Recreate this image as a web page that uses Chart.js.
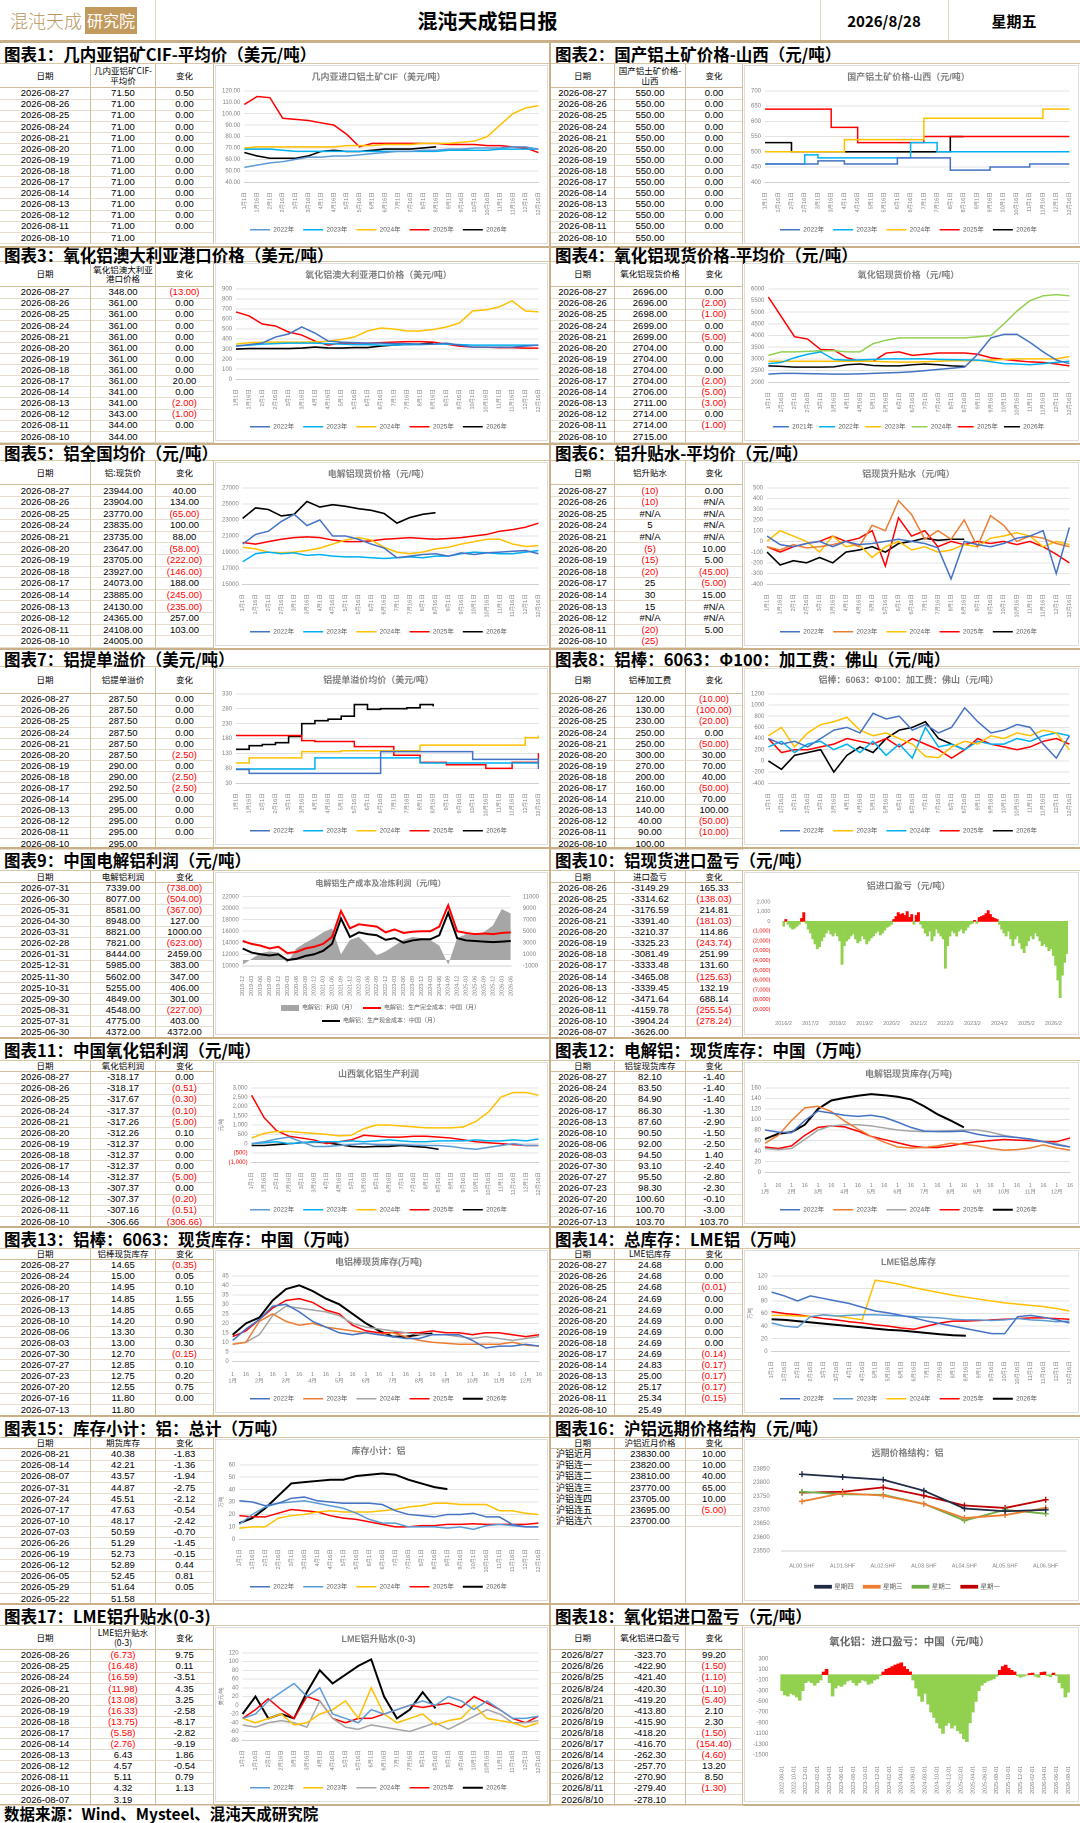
<!DOCTYPE html>
<html><head><meta charset="utf-8">
<script src="https://cdn.jsdelivr.net/npm/chart.js@4.4.1/dist/chart.umd.min.js"></script>
<style>
html,body{margin:0;padding:0;background:#fff}
body{width:1080px;height:1823px;position:relative;overflow:hidden;font-family:"Liberation Sans","Noto Sans CJK SC",sans-serif;color:#000}
.a{position:absolute;box-sizing:border-box}
.cell{position:absolute;box-sizing:border-box;display:flex;align-items:center;justify-content:center;text-align:center;font-size:9.5px;line-height:10px;white-space:nowrap;border-bottom:1px solid #e6dccb;border-right:1px solid #cfbd9b;overflow:hidden}
.hd{font-family:"Noto Sans CJK SC";font-size:8.5px;line-height:9.5px;white-space:normal;border-bottom:1px solid #cfbd9b;padding:0 2px}
.neg{color:#ff0000}
.nob{border-bottom:none}
.lft{justify-content:flex-start;padding-left:5px;font-family:"Noto Sans CJK SC";font-size:9px}
.ptitle{position:absolute;font-family:"Noto Sans CJK SC";font-weight:700;font-size:16.5px;line-height:20px;white-space:nowrap}
.cbox{position:absolute;box-sizing:border-box;border:1px solid #dedede;background:#fff}
.hl{position:absolute;background:#c9b088}
</style></head><body>
<!-- header -->
<div class="a" style="left:10px;top:7px;height:27px;font-family:'Noto Sans CJK SC';font-weight:300;font-size:18px;line-height:27px;color:#b9955e;letter-spacing:0px">混沌天成</div>
<div class="a" style="left:85px;top:7px;width:52px;height:27px;background:#c29a5d;color:#fff;font-family:'Noto Sans CJK SC';font-size:16px;line-height:27px;text-align:center">研究院</div>
<div class="hl" style="left:155px;top:0;width:1px;height:40px;background:#e2d6bf"></div>
<div class="hl" style="left:820px;top:0;width:1px;height:40px;background:#e2d6bf"></div>
<div class="hl" style="left:948px;top:0;width:1px;height:40px;background:#e2d6bf"></div>
<div class="a" style="left:155px;width:665px;top:8px;text-align:center;font-family:'Noto Sans CJK SC';font-weight:700;font-size:20px;line-height:26px">混沌天成铝日报</div>
<div class="a" style="left:820px;width:128px;top:10px;text-align:center;font-family:'Noto Sans CJK SC';font-weight:700;font-size:15px;line-height:22px">2026/8/28</div>
<div class="a" style="left:948px;width:132px;top:10px;text-align:center;font-family:'Noto Sans CJK SC';font-weight:700;font-size:15px;line-height:22px">星期五</div>
<div class="hl" style="left:0;top:40px;width:1080px;height:2px"></div>
<div class="hl" style="left:549px;top:41px;width:2px;height:1763px"></div>
<div class="hl" style="left:0;top:1804px;width:1080px;height:2px"></div>
<div class="ptitle" style="left:4px;top:1804px;line-height:19px;font-size:15.5px">数据来源：Wind、Mysteel、混沌天成研究院</div>
<script>
// ---------------- categories / tick labels ----------------
const M24=["1月1日","1月16日","2月1日","2月16日","3月1日","3月16日","4月1日","4月16日","5月1日","5月16日","6月1日","6月16日","7月1日","7月16日","8月1日","8月16日","9月1日","9月16日","10月1日","10月16日","11月1日","11月16日","12月1日","12月16日"];
const DM24=[["1","1月"],["16",""],["1","2月"],["16",""],["1","3月"],["16",""],["1","4月"],["16",""],["1","5月"],["16",""],["1","6月"],["16",""],["1","7月"],["16",""],["1","8月"],["16",""],["1","9月"],["16",""],["1","10月"],["16",""],["1","11月"],["16",""],["1","12月"],["16",""]];
const Q9=["2018-12","2019-03","2019-06","2019-09","2019-12","2020-03","2020-06","2020-09","2020-12","2021-03","2021-06","2021-09","2021-12","2022-03","2022-06","2022-09","2022-12","2023-03","2023-06","2023-09","2023-12","2024-03","2024-06","2024-09","2024-12","2025-03","2025-06","2025-09","2025-12","2026-03","2026-06"];
const AL16=["AL00.SHF","AL01.SHF","AL02.SHF","AL03.SHF","AL04.SHF","AL05.SHF","AL06.SHF"];
const M10=[]; for(let y=2016;y<=2026;y++){for(let m=1;m<=12;m++){if((y===2016&&m<2)||(y===2026&&m>8))continue;M10.push(y+'/'+m);}}
const D18=[]; for(let y=2022;y<=2026;y++){for(let m=1;m<=12;m++){if((y===2022&&m<8)||(y===2026&&m>8))continue;const mm=(m<10?'0':'')+m;D18.push(y+'-'+mm+'-01');if(!(y===2026&&m===8))D18.push(y+'-'+mm+'-16');}}
const YRS5=["2022年","2023年","2024年","2025年","2026年"];

// ---------------- series values ----------------
const c1_22=[53,55,57,58,60,62,62,63,63,64,65,66,67,67,68,68,69,69,70,70,70,71,71,69];
const c1_23=[69,69,69,68,67,67,67,67,67,67,67,67,67,67,67,67,68,68,68,68,69,69,69,69];
const c1_24=[70,71,71,71,71,71,71,71,72,72,72,73,73,73,74,74,74,75,76,80,90,100,105,107];
const c1_25=[108,115,114,96,95,94,92,90,82,71,74,74,74,74,74,74,73,73,73,72,72,71,70,66];
const c1_26=[66,63,61,61,61,63,67,68,67,67,68,69,69,69,70,71];

const c2_22=[460,460,460,460,470,470,460,460,460,460,480,480,480,480,440,440,440,450,450,450,460,460,460,460];
const c2_23=[460,460,460,490,480,480,480,480,480,480,480,530,530,500,500,500,500,500,500,500,500,500,500,500];
const c2_24=[500,500,500,500,500,500,540,540,540,540,540,540,610,610,610,610,610,610,610,610,610,640,640,640];
const c2_25=[640,640,640,640,640,580,580,530,530,530,530,530,550,550,550,550,550,550,550,550,550,550,550,550];
const c2_26=[530,530,500,500,500,500,500,500,500,500,500,500,500,500,550,550];

const c3_22=[330,345,360,420,450,520,460,380,370,365,360,360,355,355,350,350,360,340,320,320,320,320,330,340];
const c3_23=[330,340,350,355,360,360,360,355,350,345,345,340,340,345,345,350,350,345,340,340,340,340,340,340];
const c3_24=[350,365,368,370,370,370,372,380,395,420,480,510,500,480,480,495,520,560,680,690,720,780,680,670];
const c3_25=[670,630,550,530,470,440,380,340,360,360,360,365,370,375,375,370,350,330,320,320,315,315,310,310];
const c3_26=[300,305,305,305,305,310,320,312,310,315,315,330,340,345,350,360];

const c4_21=[2350,2380,2380,2370,2360,2350,2350,2360,2380,2400,2420,2450,2500,2550,2600,2650,3200,3900,4050,4050,3700,3300,2950,2800];
const c4_22=[2800,2850,3050,3200,3300,2980,2950,2960,2980,3000,3000,3000,3000,2980,2970,2960,2950,2880,2800,2780,2750,2800,2850,2900];
const c4_23=[2900,2900,2900,2900,2900,2900,2900,2900,2900,2880,2860,2860,2880,2900,2920,2920,2930,2950,2980,3000,3000,3000,3000,3100];
const c4_24=[3150,3300,3300,3320,3350,3350,3300,3300,3650,3800,3900,3900,3900,3900,3900,3900,3950,4000,4500,5050,5500,5700,5750,5700];
const c4_25=[5650,4800,3950,3850,3400,3380,3050,2900,2900,3250,3300,3150,3200,3250,3250,3250,3200,3050,2980,2920,2870,2850,2780,2700];
const c4_26=[2700,2680,2650,2650,2650,2660,2750,2780,2720,2700,2700,2750,2780,2750,2700,2680];

const c5_22=[20000,21200,21600,22800,23700,22300,23000,21000,21000,20600,20000,19500,18300,18500,18700,18800,18500,18900,18700,18900,19000,19100,19200,18800];
const c5_23=[17800,18800,19000,18800,18900,18600,18700,18500,18400,18400,18300,18200,18300,18400,18300,18500,18500,18800,19000,18900,18800,18800,19000,19200];
const c5_24=[19600,19400,19000,18900,19000,19200,19500,20000,20500,20800,20500,19600,19000,18800,19000,19400,19600,20000,20300,20600,20600,20000,19700,19800];
const c5_25=[20200,20000,20300,20600,20800,20900,20800,20500,20300,20300,20400,20600,20700,20800,20700,20600,20700,20800,21000,21200,21600,21800,22100,22600];
const c5_26=[23200,24500,24300,23500,23700,25300,24600,24900,24700,24400,24200,23800,22600,23300,23700,23900];

const c6_22=[50,-30,-50,-20,0,-50,0,-30,-20,0,20,0,-20,-60,-350,0,-30,-50,-20,30,50,100,-300,130];
const c6_23=[-50,-80,-30,-60,-50,-30,0,-50,150,100,380,250,20,100,20,200,-50,240,150,0,50,30,-20,-50];
const c6_24=[0,100,50,0,-100,50,-50,-30,-150,-50,0,-80,-50,-100,-80,-30,-50,30,50,80,50,-50,0,-30];
const c6_25=[-50,-100,-50,-20,0,50,0,30,100,-230,220,50,100,-50,0,-30,0,-20,0,-30,0,-50,-120,-200];
const c6_26=[-100,-220,-180,-200,-150,-200,-100,-80,-50,-100,-20,0,30,10,20,20];

const c7_22=[76,63,63,63,63,63,63,63,63,63,63,136,136,136,136,136,136,136,110,110,110,110,110,78];
const c7_23=[78,78,78,78,78,78,115,115,115,115,115,115,115,115,98,98,98,98,98,98,98,98,98,98];
const c7_24=[98,115,115,115,115,136,136,136,139,139,139,139,139,139,158,158,158,158,158,158,158,158,183,190];
const c7_25=[190,190,190,190,190,173,170,170,170,153,153,153,124,124,100,100,92,92,92,80,80,100,100,131];
const c7_26=[144,156,160,166,187,230,240,245,255,294,278,280,280,283,294,288];

const c8_22=[400,300,350,250,400,550,600,500,850,750,800,550,650,500,600,950,700,500,550,650,600,300,50,450];
const c8_23=[450,600,250,500,650,700,780,550,450,500,400,300,80,60,250,350,300,450,400,500,450,550,500,200];
const c8_24=[250,350,150,300,350,200,300,150,350,100,300,50,600,250,300,200,350,300,300,400,350,450,500,450];
const c8_25=[400,150,200,200,250,300,400,350,300,400,250,400,300,200,50,200,400,300,250,200,250,350,400,300];
const c8_26=[0,-150,100,150,200,-200,100,250,150,400,550,600,700,400,300,200];

const c9_full=[14300,13800,13500,13000,13300,12200,12400,13000,13300,13800,15000,19500,16500,17200,17000,16800,15800,16300,15700,15900,16000,16000,16800,20500,16000,15700,15500,15600,15500,15700,15800];
const c9_cash=[13000,12300,12000,11800,12000,11000,11200,11700,12000,12600,13800,18200,15000,15800,15500,15300,14500,14800,14000,14400,14600,14600,15300,19200,14800,14400,14300,14200,14100,14200,14300];
const c9_profit=[-800,200,1200,1500,1300,-500,2000,3000,3800,4800,5500,1000,3500,4000,2500,800,1500,2500,3500,4000,3800,3500,2500,-800,3800,4500,4372,4849,5985,8821,8077];

const c10=[-500,200,-300,-600,-800,-700,-500,-300,300,900,-200,
-800,-1200,-1800,-2300,-2800,-2600,-2000,-1600,-1200,-900,-1300,-1500,
-1200,-1500,-2000,-4400,-2500,-2000,-1800,-1500,-1300,-1800,-2200,-2000,
-1500,-1800,-2300,-2000,-1700,-1500,-1200,-1000,-1400,-1200,-900,-600,
-500,-300,200,500,900,700,800,600,1000,400,700,-300,
600,900,-300,-700,-1200,-1500,-1000,-2000,-1500,-800,-1200,-1500,
-1800,-4800,-2500,-1500,-1000,-1200,-1500,-1000,-800,-1200,-900,-600,
-300,-200,100,-200,400,500,600,800,1100,700,400,300,
200,-300,-800,-1200,-1500,-1000,-1800,-2500,-1800,-1500,-2200,-2800,
-3200,-2500,-2000,-1500,-1800,-1200,-1500,-2000,-2500,-2300,-2600,-3000,
-2800,-3500,-4500,-6000,-7800,-5500,-4200,-3300];

const c11_22=[0,100,250,350,100,-150,-150,-100,-50,0,-50,-50,-50,-80,-100,-100,-150,-250,-300,-200,-100,0,-100,-100];
const c11_23=[0,50,100,0,50,100,100,100,150,100,150,200,150,100,100,150,150,150,200,150,150,200,150,250];
const c11_24=[300,550,650,650,600,550,500,420,450,800,1000,1000,950,900,850,850,850,900,1200,1700,2500,2750,2750,2600];
const c11_25=[2600,1400,700,400,300,200,0,100,200,450,400,350,350,400,400,350,300,200,100,50,0,-50,-100,-100];
const c11_26=[-100,-100,-50,0,50,100,50,-50,-150,-180,-150,-150,-100,-150,-200,-300];

const c12_22=[80,76,75,98,116,112,108,106,108,104,95,85,78,77,77,78,72,68,68,66,63,58,52,48];
const c12_23=[55,70,98,122,125,115,97,82,68,57,48,46,47,50,55,53,50,45,42,43,46,52,46,42];
const c12_24=[45,43,45,62,80,88,90,90,88,84,80,78,77,78,79,80,80,76,70,66,62,58,54,48];
const c12_25=[48,45,50,70,85,88,86,78,68,62,56,50,47,47,50,55,58,60,62,61,60,58,58,65];
const c12_26=[63,73,76,90,120,136,141,145,148,146,143,138,125,110,98,85];

const c13_22=[11,17,22,29,30,26,21,18,15,14,15,14,13,12,12,14,14,14,11,7,8,8,9,8];
const c13_23=[9,10,21,25,21,19,20,18,17,16,15,14,15,13,11,10,9.5,9,9,9,9,10,8.5,8];
const c13_24=[9,10,14,24,29,28,27,26,24,20,18,17,16,15,14,14,14,13,12,13,12,11,12,13];
const c13_25=[13,16,22,28,32,33,31,27,25,19,16,15,15,15,15,16,15,15,14,15,15,14,13,14];
const c13_26=[14,20,23,32,38,40,37,33,30,25,20,16,13,13,14,14.65];

const c14_22=[94,88,80,88,84,80,76,70,64,61,57,53,48,44,40,36,32,28,28,55,57,54,50,45];
const c14_23=[45,40,38,55,58,56,57,58,58,57,56,55,54,53,51,50,50,49,50,52,50,49,47,48];
const c14_24=[57,57,56,55,58,56,53,50,113,110,106,101,97,93,89,86,83,80,77,75,73,71,68,64];
const c14_25=[63,60,58,55,52,50,47,45,42,40,37,35,40,45,48,48,49,50,51,52,53,53,52,51];
const c14_26=[51,50,48,46,44,42,40,38,36,34,33,31,29,27,25.5,24.7];

const c15_22=[31,30,27,29,33,34,31,30,29,29,29,28,23,20,19,18,20,20,21,18,18,12,10,10];
const c15_23=[12,20,26,29,30,31,29,27,25,21,16,13,13,10,10,10,9,10,8,11,12,11,10,10];
const c15_24=[9,10,10,17,19,20,22,23,22,22,22,23,24,26,27,29,29,28,28,28,23,23,21,20];
const c15_25=[19,18,18,21,24,23,22,19,17,16,14,12,10,10,11,11,12,12,12.5,12,12,12,12,13];
const c15_26=[13,17,25,35,45,46,47,48,48,51,52,53,52,48,45,42,40.4];

const c16_thu=[23830,23820,23810,23770,23705,23695,23700];
const c16_wed=[23731,23761,23752,23722,23670,23681,23707];
const c16_tue=[23766,23757,23755,23722,23661,23700,23686];
const c16_mon=[23763,23766,23782,23752,23716,23707,23737];

const c17_22=[-30,-20,10,30,50,20,40,-20,-30,-40,-10,-20,-10,0,10,0,20,10,-10,10,-10,-30,-30,-25];
const c17_23=[-30,-40,-30,-20,-45,-40,-20,-10,10,-30,40,-20,-40,-30,-20,-45,-35,-30,0,-30,-35,-40,-50,-40];
const c17_24=[-45,-50,-40,-35,-40,-50,10,-30,-50,-55,-45,-50,-55,-60,-50,-40,-55,-40,-25,-10,-20,-40,-40,-35];
const c17_25=[-30,-10,15,-10,-30,20,10,-30,-40,-30,-30,-20,-10,0,-5,0,5,-5,20,5,-10,-30,-40,-25];
const c17_26=[-20,20,-30,-20,-30,30,80,50,70,90,105,20,-30,-10,30,-7];

const c18=[-300,-380,-400,-350,-380,-420,-480,-300,-150,-120,
-150,-200,-150,-100,50,100,-150,-400,-250,-200,-220,-180,-120,-100,-150,-200,-150,-100,-120,-180,-160,-100,-80,-20,
50,100,120,150,180,200,220,150,100,50,-100,-250,-400,-500,-350,-550,-700,-800,-900,-1000,-1100,-950,-900,-1000,
-950,-1050,-1100,-1200,-1250,-900,-700,-500,-300,-200,-150,-120,-100,-80,-30,80,150,180,120,80,50,-20,-50,-30,
-10,20,30,-30,-50,40,50,-20,-40,30,-20,-150,-250,-420,-330];

// ---------------- table texts ----------------
const DD=["2026-08-27","2026-08-26","2026-08-25","2026-08-24","2026-08-21","2026-08-20","2026-08-19","2026-08-18","2026-08-17","2026-08-14","2026-08-13","2026-08-12","2026-08-11","2026-08-10"];
const t1v=["71.50","71.00","71.00","71.00","71.00","71.00","71.00","71.00","71.00","71.00","71.00","71.00","71.00","71.00"];
const t1c=["0.50","0.00","0.00","0.00","0.00","0.00","0.00","0.00","0.00","0.00","0.00","0.00","0.00",""];
const t2v=["550.00","550.00","550.00","550.00","550.00","550.00","550.00","550.00","550.00","550.00","550.00","550.00","550.00","550.00"];
const t2c=["0.00","0.00","0.00","0.00","0.00","0.00","0.00","0.00","0.00","0.00","0.00","0.00","0.00",""];
const t3v=["348.00","361.00","361.00","361.00","361.00","361.00","361.00","361.00","361.00","341.00","341.00","343.00","344.00","344.00"];
const t3c=["(13.00)","0.00","0.00","0.00","0.00","0.00","0.00","0.00","20.00","0.00","(2.00)","(1.00)","0.00",""];
const t4v=["2696.00","2696.00","2698.00","2699.00","2699.00","2704.00","2704.00","2704.00","2704.00","2706.00","2711.00","2714.00","2714.00","2715.00"];
const t4c=["0.00","(2.00)","(1.00)","0.00","(5.00)","0.00","0.00","0.00","(2.00)","(5.00)","(3.00)","0.00","(1.00)",""];
const t5v=["23944.00","23904.00","23770.00","23835.00","23735.00","23647.00","23705.00","23927.00","24073.00","23885.00","24130.00","24365.00","24108.00","24005.00"];
const t5c=["40.00","134.00","(65.00)","100.00","88.00","(58.00)","(222.00)","(146.00)","188.00","(245.00)","(235.00)","257.00","103.00",""];
const t6v=["(10)","(10)","#N/A","5","#N/A","(5)","(15)","(20)","25","30","15","#N/A","(20)","(25)"];
const t6c=["0.00","#N/A","#N/A","#N/A","#N/A","10.00","5.00","(45.00)","(5.00)","15.00","#N/A","#N/A","5.00",""];
const t7v=["287.50","287.50","287.50","287.50","287.50","287.50","290.00","290.00","292.50","295.00","295.00","295.00","295.00","295.00"];
const t7c=["0.00","0.00","0.00","0.00","0.00","(2.50)","0.00","(2.50)","(2.50)","0.00","0.00","0.00","0.00",""];
const t8v=["120.00","130.00","230.00","250.00","250.00","300.00","270.00","200.00","160.00","210.00","140.00","40.00","90.00","100.00"];
const t8c=["(10.00)","(100.00)","(20.00)","0.00","(50.00)","30.00","70.00","40.00","(50.00)","70.00","100.00","(50.00)","(10.00)",""];
const t9d=["2026-07-31","2026-06-30","2026-05-31","2026-04-30","2026-03-31","2026-02-28","2026-01-31","2025-12-31","2025-11-30","2025-10-31","2025-09-30","2025-08-31","2025-07-31","2025-06-30"];
const t9v=["7339.00","8077.00","8581.00","8948.00","8821.00","7821.00","8444.00","5985.00","5602.00","5255.00","4849.00","4548.00","4775.00","4372.00"];
const t9c=["(738.00)","(504.00)","(367.00)","127.00","1000.00","(623.00)","2459.00","383.00","347.00","406.00","301.00","(227.00)","403.00","4372.00"];
const t10d=["2026-08-26","2026-08-25","2026-08-24","2026-08-21","2026-08-20","2026-08-19","2026-08-18","2026-08-17","2026-08-14","2026-08-13","2026-08-12","2026-08-11","2026-08-10","2026-08-07"];
const t10v=["-3149.29","-3314.62","-3176.59","-3391.40","-3210.37","-3325.23","-3081.49","-3333.48","-3465.08","-3339.45","-3471.64","-4159.78","-3904.24","-3626.00"];
const t10c=["165.33","(138.03)","214.81","(181.03)","114.86","(243.74)","251.99","131.60","(125.63)","132.19","688.14","(255.54)","(278.24)",""];
const t11v=["-318.17","-318.17","-317.67","-317.37","-317.26","-312.26","-312.37","-312.37","-312.37","-312.37","-307.37","-307.37","-307.16","-306.66"];
const t11c=["0.00","(0.51)","(0.30)","(0.10)","(5.00)","0.10","0.00","0.00","0.00","(5.00)","0.00","(0.20)","(0.51)","(306.66)"];
const t12d=["2026-08-27","2026-08-24","2026-08-20","2026-08-17","2026-08-13","2026-08-10","2026-08-06","2026-08-03","2026-07-30","2026-07-27","2026-07-23","2026-07-20","2026-07-16","2026-07-13"];
const t12v=["82.10","83.50","84.90","86.30","87.60","90.50","92.00","94.50","93.10","95.50","98.30","100.60","100.70","103.70"];
const t12c=["-1.40","-1.40","-1.40","-1.30","-2.90","-1.50","-2.50","1.40","-2.40","-2.80","-2.30","-0.10","-3.00","103.70"];
const t13v=["14.65","15.00","14.95","14.85","14.85","14.20","13.30","13.00","12.70","12.85","12.75","12.55","11.80","11.80"];
const t13c=["(0.35)","0.05","0.10","1.55","0.65","0.90","0.30","0.30","(0.15)","0.10","0.20","0.75","0.00",""];
const t14v=["24.68","24.68","24.68","24.69","24.69","24.69","24.69","24.69","24.69","24.83","25.00","25.17","25.34","25.49"];
const t14c=["0.00","0.00","(0.01)","0.00","0.00","0.00","0.00","0.00","(0.14)","(0.17)","(0.17)","(0.17)","(0.15)",""];
const t15d=["2026-08-21","2026-08-14","2026-08-07","2026-07-31","2026-07-24","2026-07-17","2026-07-10","2026-07-03","2026-06-26","2026-06-19","2026-06-12","2026-06-05","2026-05-29","2026-05-22"];
const t15v=["40.38","42.21","43.57","44.87","45.51","47.63","48.17","50.59","51.29","52.73","52.89","52.45","51.64","51.58"];
const t15c=["-1.83","-1.36","-1.94","-2.75","-2.12","-0.54","-2.42","-0.70","-1.45","-0.15","0.44","0.81","0.05",""];
const t16d=["沪铝近月","沪铝连一","沪铝连二","沪铝连三","沪铝连四","沪铝连五","沪铝连六"];
const t16v=["23830.00","23820.00","23810.00","23770.00","23705.00","23695.00","23700.00"];
const t16c=["10.00","10.00","40.00","65.00","10.00","(5.00)",""];
const t17d=["2026-08-26","2026-08-25","2026-08-24","2026-08-21","2026-08-20","2026-08-19","2026-08-18","2026-08-17","2026-08-14","2026-08-13","2026-08-12","2026-08-11","2026-08-10","2026-08-07"];
const t17v=["(6.73)","(16.48)","(16.59)","(11.98)","(13.08)","(16.33)","(13.75)","(5.58)","(2.76)","6.43","4.57","5.11","4.32","3.19"];
const t17c=["9.75","0.11","-3.51","4.35","3.25","-2.58","-8.17","-2.82","-9.19","1.86","-0.54","0.79","1.13",""];
const t18d=["2026/8/27","2026/8/26","2026/8/25","2026/8/24","2026/8/21","2026/8/20","2026/8/19","2026/8/18","2026/8/17","2026/8/14","2026/8/13","2026/8/12","2026/8/11","2026/8/10"];
const t18v=["-323.70","-422.90","-421.40","-420.30","-419.20","-413.80","-415.90","-418.20","-416.70","-262.30","-257.70","-270.90","-279.40","-278.10"];
const t18c=["99.20","(1.50)","(1.10)","(1.10)","(5.40)","2.10","2.30","(1.50)","(154.40)","(4.60)","13.20","8.50","(1.30)",""];

// ---------------- layout ----------------
const ROWS=[
 {t:41,top:64,hh:24,rh:11.1,bot:246},
 {t:246,top:262,hh:25,rh:11.1,bot:443},
 {t:443,top:461,hh:24,rh:11.6,bot:648},
 {t:648,top:667,hh:27,rh:11.1,bot:847},
 {t:847,top:871,hh:11.5,rh:11.1,bot:1037},
 {t:1037,top:1061,hh:11,rh:11.1,bot:1226},
 {t:1226,top:1249,hh:11,rh:11.1,bot:1415},
 {t:1415,top:1438,hh:11,rh:11.1,bot:1603},
 {t:1603,top:1626,hh:24,rh:11.1,bot:1804}];
const LW=[91,65,58], RW=[64,71,57];
const body=document.body;
function addEl(html){const d=document.createElement('div');d.innerHTML=html;while(d.firstChild)body.appendChild(d.firstChild);}

function panelTitle(side,r,text){
  const R=ROWS[r];
  if(side==='L') addEl('<div class="hl" style="left:0;top:'+R.t+'px;width:1080px;height:2px"></div>');
  addEl('<div class="hl" style="left:'+(side==='L'?0:551)+'px;top:'+(R.top-1)+'px;width:'+(side==='L'?549:529)+'px;height:1px;background:#d8c7a6"></div>');
  const cy=(R.t+2+R.top)/2;
  addEl('<div class="ptitle" style="left:'+(side==='L'?4:555)+'px;top:'+(cy-10)+'px">'+text+'</div>');
}
function table(side,r,head,c0,c1,c2,opt){
  opt=opt||{};
  const R=ROWS[r]; const W=side==='L'?LW:RW; const x0=side==='L'?0:551;
  const xs=[x0,x0+W[0],x0+W[0]+W[1]];
  let h='';
  head.forEach((t,i)=>{h+='<div class="cell hd" style="left:'+xs[i]+'px;top:'+R.top+'px;width:'+W[i]+'px;height:'+R.hh+'px">'+t+'</div>';});
  for(let j=0;j<14;j++){
    const y=R.top+R.hh+j*R.rh;
    const vals=[c0[j]||'',c1[j]||'',c2[j]||''];
    const empty=opt.blankAfter!==undefined && j>=opt.blankAfter;
    vals.forEach((v,i)=>{
      let cls='cell';
      if(v.charAt(0)==='(') cls+=' neg';
      if(empty) cls+=' nob';
      if(i===0&&opt.leftFirst&&!empty) cls+=' lft';
      h+='<div class="'+cls+'" style="left:'+xs[i]+'px;top:'+y+'px;width:'+W[i]+'px;height:'+(R.rh+0.4)+'px">'+v+'</div>';
    });
  }
  addEl(h);
}
function mkCanvas(side,r){
  const R=ROWS[r];
  const d=document.createElement('div'); d.className='cbox';
  const x=side==='L'?215:744, w=side==='L'?333:335;
  d.style.left=x+'px'; d.style.top=(R.top+1)+'px'; d.style.width=w+'px'; d.style.height=(R.bot-R.top-3)+'px';
  const c=document.createElement('canvas'); d.appendChild(c); body.appendChild(d);
  return c;
}

Chart.defaults.font.family='"Liberation Sans","Noto Sans CJK SC",sans-serif';
Chart.defaults.animation=false;
Chart.defaults.devicePixelRatio=2;
const TICK='#7f7f7f', GRID='#e3e3e3';
const COL={blue:'#4472c4',lblue:'#5b9bd5',cyan:'#00b0f0',gold:'#ffc000',red:'#ff0000',black:'#000000',orange:'#ed7d31',gray:'#a5a5a5',green:'#92d050'};
function fmtY(kind){
  if(kind==='f2') return v=>Number(v).toFixed(2);
  if(kind==='th') return v=>v<0?'('+Math.abs(v).toLocaleString('en-US')+')':Number(v).toLocaleString('en-US');
  return v=>String(v);
}
const negColor=c=>(c.tick&&c.tick.value<0)?'#ff0000':TICK;
function legendOpts(lab){return {display:true,position:'bottom',labels:Object.assign({usePointStyle:true,pointStyleWidth:20,boxHeight:6,font:{size:6.5},color:'#595959',padding:9},lab||{})};}
function lineChart(side,r,o){
  const cv=mkCanvas(side,r);
  const ds=o.series.map(s=>({label:s[0],data:s[1],borderColor:s[2],backgroundColor:s[2],borderWidth:s[3]||1.5,pointRadius:0,pointStyle:'line',stepped:!!o.step,tension:0}));
  return new Chart(cv,{type:'line',data:{labels:o.labels,datasets:ds},options:{
    responsive:true,maintainAspectRatio:false,animation:false,
    layout:{padding:{left:2,right:8,top:0,bottom:0}},
    plugins:{title:{display:true,text:o.title,color:'#7f7f7f',font:{size:9},padding:{top:6,bottom:8}},
      legend:legendOpts(o.leg),tooltip:{enabled:false}},
    scales:{
      x:{grid:{display:false},border:{color:'#d0d0d0'},ticks:Object.assign({font:{size:5.5},color:TICK,autoSkip:false,maxRotation:90,minRotation:90,padding:2},o.xt||{})},
      y:{min:o.y[0],max:o.y[1],grid:{color:GRID,drawTicks:false},border:{display:false},
        title:o.ytitle?{display:true,text:o.ytitle,font:{size:5.5},color:TICK,padding:0}:{display:false},
        ticks:{stepSize:o.y[2],autoSkip:false,font:{size:6},color:o.negRed?negColor:TICK,padding:4,callback:fmtY(o.fmt)}}}
  }});
}
function seasonSeries(arrs,cols,lastW){return arrs.map((a,i)=>[YRS5[i],a,cols[i],i===arrs.length-1?(lastW||1.6):1.5]);}

// ---------------- panels ----------------
// Row 1
panelTitle('L',0,'图表1：几内亚铝矿CIF-平均价（美元/吨）');
table('L',0,['日期','几内亚铝矿CIF-平均价','变化'],DD,t1v,t1c);
lineChart('L',0,{title:'几内亚进口铝土矿CIF（美元/吨）',labels:M24,y:[40,120,10],fmt:'f2',
  series:seasonSeries([c1_22,c1_23,c1_24,c1_25,c1_26],[COL.lblue,COL.cyan,COL.gold,COL.red,COL.black])});
panelTitle('R',0,'图表2：国产铝土矿价格-山西（元/吨）');
table('R',0,['日期','国产铝土矿价格-山西','变化'],DD,t2v,t2c);
lineChart('R',0,{title:'国产铝土矿价格-山西（元/吨）',labels:M24,y:[400,700,50],step:true,
  series:seasonSeries([c2_22,c2_23,c2_24,c2_25,c2_26],[COL.blue,COL.cyan,COL.gold,COL.red,COL.black])});
// Row 2
panelTitle('L',1,'图表3：氧化铝澳大利亚港口价格（美元/吨）');
table('L',1,['日期','氧化铝澳大利亚港口价格','变化'],DD,t3v,t3c);
lineChart('L',1,{title:'氧化铝澳大利亚港口价格（美元/吨）',labels:M24,y:[0,900,100],
  series:seasonSeries([c3_22,c3_23,c3_24,c3_25,c3_26],[COL.blue,COL.cyan,COL.gold,COL.red,COL.black])});
panelTitle('R',1,'图表4：氧化铝现货价格-平均价（元/吨）');
table('R',1,['日期','氧化铝现货价格','变化'],DD,t4v,t4c);
lineChart('R',1,{title:'氧化铝现货价格（元/吨）',labels:M24,y:[2000,6000,500],leg:{pointStyleWidth:16,padding:6},
  series:[["2021年",c4_21,COL.blue],["2022年",c4_22,COL.cyan],["2023年",c4_23,COL.gold],["2024年",c4_24,COL.green],["2025年",c4_25,COL.red],["2026年",c4_26,COL.black]]});
// Row 3
panelTitle('L',2,'图表5：铝全国均价（元/吨）');
table('L',2,['日期','铝:现货价','变化'],DD,t5v,t5c);
lineChart('L',2,{title:'电解铝现货价格（元/吨）',labels:M24,y:[15000,27000,2000],
  series:seasonSeries([c5_22,c5_23,c5_24,c5_25,c5_26],[COL.blue,COL.cyan,COL.gold,COL.red,COL.black])});
panelTitle('R',2,'图表6：铝升贴水-平均价（元/吨）');
table('R',2,['日期','铝升贴水','变化'],DD,t6v,t6c);
lineChart('R',2,{title:'铝现货升贴水（元/吨）',labels:M24,y:[-400,500,100],
  series:seasonSeries([c6_22,c6_23,c6_24,c6_25,c6_26],[COL.blue,COL.orange,COL.gold,COL.red,COL.black])});
// Row 4
panelTitle('L',3,'图表7：铝提单溢价（美元/吨）');
table('L',3,['日期','铝提单溢价','变化'],DD,t7v,t7c);
lineChart('L',3,{title:'铝提单溢价均价（美元/吨）',labels:M24,y:[30,330,50],step:true,
  series:seasonSeries([c7_22,c7_23,c7_24,c7_25,c7_26],[COL.blue,COL.cyan,COL.gold,COL.red,COL.black])});
panelTitle('R',3,'图表8：铝棒：6063：Φ100：加工费：佛山（元/吨）');
table('R',3,['日期','铝棒加工费','变化'],DD,t8v,t8c);
lineChart('R',3,{title:'铝棒：6063：Φ100：加工费：佛山（元/吨）',labels:M24,y:[-400,1200,200],
  series:seasonSeries([c8_22,c8_23,c8_24,c8_25,c8_26],[COL.blue,COL.gold,COL.cyan,COL.red,COL.black])});
// Row 5
panelTitle('L',4,'图表9：中国电解铝利润（元/吨）');
table('L',4,['日期','电解铝利润','变化'],t9d,t9v,t9c);
(function(){
  const cv=mkCanvas('L',4);
  new Chart(cv,{type:'line',data:{labels:Q9,datasets:[
    {label:'电解铝：利润（月）',data:c9_profit,yAxisID:'y1',fill:'origin',backgroundColor:'#a6a6a6',borderColor:'#a6a6a6',borderWidth:0,pointRadius:0,pointStyle:'rect',tension:0,order:3},
    {label:'电解铝：生产完全成本：中国（月）',data:c9_full,yAxisID:'y',borderColor:COL.red,backgroundColor:COL.red,borderWidth:2,pointRadius:0,pointStyle:'line',tension:0,order:1},
    {label:'电解铝：生产现金成本：中国（月）',data:c9_cash,yAxisID:'y',borderColor:COL.black,backgroundColor:COL.black,borderWidth:2,pointRadius:0,pointStyle:'line',tension:0,order:2}]},
  options:{responsive:true,maintainAspectRatio:false,animation:false,layout:{padding:{left:2,right:4}},
    plugins:{title:{display:true,text:'电解铝生产成本及冶炼利润（元/吨）',color:'#7f7f7f',font:{size:8},padding:{top:6,bottom:8}},
      legend:legendOpts({pointStyleWidth:18,font:{size:6},padding:7,sort:(a,b)=>a.datasetIndex-b.datasetIndex}),tooltip:{enabled:false}},
    scales:{x:{grid:{display:false},border:{color:'#d0d0d0'},ticks:{font:{size:5.5},color:TICK,autoSkip:false,maxRotation:90,minRotation:90,padding:2}},
      y:{min:10000,max:22000,grid:{color:GRID,drawTicks:false},border:{display:false},ticks:{stepSize:2000,autoSkip:false,font:{size:6},color:TICK,padding:4,callback:fmtY()}},
      y1:{position:'right',min:-1000,max:11000,grid:{display:false},border:{display:false},ticks:{stepSize:2000,autoSkip:false,font:{size:6},color:TICK,padding:4,callback:fmtY()}}}}});
})();
panelTitle('R',4,'图表10：铝现货进口盈亏（元/吨）');
table('R',4,['日期','进口盈亏','变化'],t10d,t10v,t10c);
(function(){
  const cv=mkCanvas('R',4);
  new Chart(cv,{type:'bar',data:{labels:M10,datasets:[{label:'铝进口盈亏',data:c10,backgroundColor:c10.map(v=>v>=0?COL.red:COL.green),barPercentage:1,categoryPercentage:1,borderWidth:0}]},
  options:{responsive:true,maintainAspectRatio:false,animation:false,layout:{padding:{left:4,right:10,bottom:4}},
    plugins:{title:{display:true,text:'铝进口盈亏（元/吨）',color:'#7f7f7f',font:{size:9},padding:{top:8,bottom:10}},legend:{display:false},tooltip:{enabled:false}},
    scales:{x:{grid:{display:false},border:{display:false},ticks:{font:{size:5.5},color:TICK,autoSkip:false,maxRotation:0,minRotation:0,padding:3,
        callback:function(v,i){const l=M10[i];return l.endsWith('/2')?l:'';}}},
      y:{min:-9000,max:2000,grid:{display:false},border:{display:false},ticks:{stepSize:1000,autoSkip:false,font:{size:5.5},color:negColor,padding:4,callback:fmtY('th')}}}}});
})();
// Row 6
panelTitle('L',5,'图表11：中国氧化铝利润（元/吨）');
table('L',5,['日期','氧化铝利润','变化'],DD,t11v,t11c);
lineChart('L',5,{title:'山西氧化铝生产利润',labels:M24,y:[-1000,3000,500],fmt:'th',negRed:true,ytitle:'元/吨',
  series:seasonSeries([c11_22,c11_23,c11_24,c11_25,c11_26],[COL.lblue,COL.cyan,COL.gold,COL.red,COL.black])});
panelTitle('R',5,'图表12：电解铝：现货库存：中国（万吨）');
table('R',5,['日期','铝锭现货库存','变化'],t12d,t12v,t12c);
lineChart('R',5,{title:'电解铝现货库存(万吨)',labels:DM24,y:[0,160,20],xt:{maxRotation:0,minRotation:0,font:{size:5.5}},
  series:seasonSeries([c12_22,c12_23,c12_24,c12_25,c12_26],[COL.blue,COL.orange,COL.gray,COL.red,COL.black],2)});
// Row 7
panelTitle('L',6,'图表13：铝棒：6063：现货库存：中国（万吨）');
table('L',6,['日期','铝棒现货库存','变化'],t12d,t13v,t13c);
lineChart('L',6,{title:'电铝棒现货库存(万吨)',labels:DM24,y:[0,45,5],xt:{maxRotation:0,minRotation:0,font:{size:5.5}},
  series:seasonSeries([c13_22,c13_23,c13_24,c13_25,c13_26],[COL.blue,COL.orange,COL.gray,COL.red,COL.black],2)});
panelTitle('R',6,'图表14：总库存：LME铝（万吨）');
table('R',6,['日期','LME铝库存','变化'],DD,t14v,t14c);
lineChart('R',6,{title:'LME铝总库存',labels:M24,y:[0,120,20],ytitle:'万吨',
  series:seasonSeries([c14_22,c14_23,c14_24,c14_25,c14_26],[COL.blue,COL.lblue,COL.gold,COL.red,COL.black],2)});
// Row 8
panelTitle('L',7,'图表15：库存小计：铝：总计（万吨）');
table('L',7,['日期','期货库存','变化'],t15d,t15v,t15c);
lineChart('L',7,{title:'库存小计：铝',labels:M24,y:[0,60,10],ytitle:'万吨',
  series:seasonSeries([c15_22,c15_23,c15_24,c15_25,c15_26],[COL.blue,COL.lblue,COL.gold,COL.red,COL.black],2)});
panelTitle('R',7,'图表16：沪铝远期价格结构（元/吨）');
table('R',7,['日期','沪铝近月价格','变化'],t16d,t16v,t16c,{leftFirst:true,blankAfter:7});
(function(){
  const cv=mkCanvas('R',7);
  const mk=(l,d,c)=>({label:l,data:d,borderColor:c,backgroundColor:c,borderWidth:1.8,pointRadius:3,pointStyle:'cross',pointBorderWidth:1.4,tension:0});
  new Chart(cv,{type:'line',data:{labels:AL16,datasets:[mk('星期四',c16_thu,'#1f2a44'),mk('星期三',c16_wed,COL.orange),mk('星期二',c16_tue,'#70ad47'),mk('星期一',c16_mon,'#c00000')]},
  options:{responsive:true,maintainAspectRatio:false,animation:false,layout:{padding:{left:4,right:12}},
    plugins:{title:{display:true,text:'远期价格结构：铝',color:'#7f7f7f',font:{size:9},padding:{top:8,bottom:10}},
      legend:{position:'bottom',labels:{boxWidth:16,boxHeight:2,font:{size:6.5},color:'#595959',padding:10}},tooltip:{enabled:false}},
    scales:{x:{grid:{display:false},border:{color:'#d0d0d0'},ticks:{font:{size:5.5},color:TICK,maxRotation:0,minRotation:0,padding:4},offset:true},
      y:{min:23550,max:23850,grid:{display:false},border:{display:false},ticks:{stepSize:50,autoSkip:false,font:{size:6},color:TICK,padding:4,callback:fmtY()}}}}});
})();
// Row 9
panelTitle('L',8,'图表17：LME铝升贴水(0-3)');
table('L',8,['日期','LME铝升贴水(0-3)','变化'],t17d,t17v,t17c);
lineChart('L',8,{title:'LME铝升贴水(0-3)',labels:M24,y:[-80,120,20],ytitle:'美元/吨',
  series:seasonSeries([c17_22,c17_23,c17_24,c17_25,c17_26],[COL.lblue,COL.gold,COL.gray,COL.red,COL.black],2)});
panelTitle('R',8,'图表18：氧化铝进口盈亏（元/吨）');
table('R',8,['日期','氧化铝进口盈亏','变化'],t18d,t18v,t18c);
(function(){
  const cv=mkCanvas('R',8);
  new Chart(cv,{type:'bar',data:{labels:D18,datasets:[{label:'氧化铝进口盈亏',data:c18,backgroundColor:c18.map(v=>v>=0?COL.red:COL.green),barPercentage:1,categoryPercentage:1,borderWidth:0}]},
  options:{responsive:true,maintainAspectRatio:false,animation:false,layout:{padding:{left:4,right:8,bottom:4}},
    plugins:{title:{display:true,text:'氧化铝：进口盈亏：中国（元/吨）',color:'#666',font:{size:10.5},padding:{top:8,bottom:10}},legend:{display:false},tooltip:{enabled:false}},
    scales:{x:{grid:{display:false},border:{display:false},ticks:{font:{size:5.5},color:TICK,autoSkip:false,maxRotation:90,minRotation:90,padding:3,
        callback:function(v,i){const l=D18[i];const m=parseInt(l.substr(5,2),10);return (l.endsWith('-01')&&m%2===0)?l:'';}}},
      y:{min:-1500,max:300,grid:{display:false},border:{display:false},ticks:{stepSize:200,autoSkip:false,font:{size:6},color:TICK,padding:4,callback:fmtY()}}}}});
})();
</script>
</body></html>
